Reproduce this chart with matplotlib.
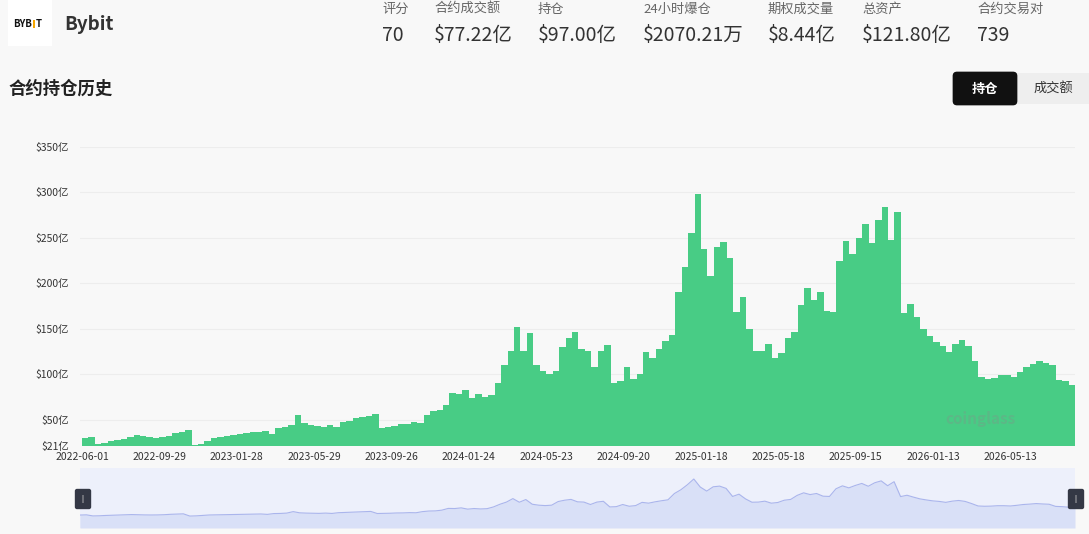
import numpy as np
import matplotlib
matplotlib.use("Agg")
import matplotlib.pyplot as plt
from matplotlib.patches import FancyBboxPatch, Rectangle

plt.rcParams['font.family'] = ['Noto Sans CJK SC', 'DejaVu Sans']

# open interest (亿 USD), one value every 10 days starting 2022-06-01
oi_values = [
    29.5, 31, 23, 24, 26.5, 28, 29, 31, 33, 31.5,
    30.5, 30, 30.5, 32, 35, 36.5, 38.5, 22, 23.5, 27,
    30, 31, 32.5, 33, 34, 35, 36, 36.5, 37.5, 34.5,
    40.5, 41.5, 44, 55, 46, 44, 43, 42, 44, 41.5,
    47, 49, 51.5, 53, 54.5, 56.5, 41, 42, 43, 45,
    45.5, 47.5, 46.5, 55, 59.5, 60.5, 66, 79, 78, 83,
    73.5, 78, 75, 77, 90, 110, 126, 152, 125, 145,
    110, 103, 100, 103, 130, 140, 146, 128, 126, 108,
    126, 132, 90, 92, 108, 95, 100, 124, 118, 128,
    136, 143, 190, 218, 255, 298, 238, 208, 240, 245,
    228, 168, 185, 150, 125, 126, 133, 118, 123, 140,
    146, 176, 195, 182, 190, 170, 168, 225, 247, 232,
    250, 265, 244, 270, 284, 248, 278, 167, 177, 163,
    150, 142, 135, 131, 124, 133, 138, 131, 115, 97,
    95, 96, 99, 99, 97, 102, 108, 111, 115, 112,
    110, 94, 92, 88, 95,
]
step_days = 10

y_ticks = [21, 50, 100, 150, 200, 250, 300, 350]
y_tick_labels = ['$21亿', '$50亿', '$100亿', '$150亿', '$200亿', '$250亿', '$300亿', '$350亿']

x_tick_days = [0, 120, 240, 360, 480, 600, 720, 840, 960, 1080, 1200, 1320, 1440]
x_tick_labels = ['2022-06-01', '2022-09-29', '2023-01-28', '2023-05-29', '2023-09-26',
                 '2024-01-24', '2024-05-23', '2024-09-20', '2025-01-18', '2025-05-18',
                 '2025-09-15', '2026-01-13', '2026-05-13']

stat_names = ['评分', '合约成交额', '持仓', '24小时爆仓', '期权成交量', '总资产', '合约交易对']
stat_values = ['70', '$77.22亿', '$97.00亿', '$2070.21万', '$8.44亿', '$121.80亿', '739']
stat_x = [382, 434, 538, 643, 768, 862, 977]

W, H = 1089, 534
BG = '#f8f8f8'
GREEN = '#48cc85'


def px(x, y):
    return x / W, 1 - y / H


fig = plt.figure(figsize=(W / 100, H / 100), dpi=100, facecolor=BG)

# header
fig.patches.append(Rectangle(px(8, 46), 44 / W, 46 / H, transform=fig.transFigure,
                             facecolor='white', edgecolor='none'))
fig.text(*px(13, 24), 'BYB', fontsize=7, fontweight='bold', color='#111', va='center', ha='left')
fig.patches.append(Rectangle(px(33.2, 28), 1.6 / W, 8 / H, transform=fig.transFigure,
                             facecolor='#f7a600', edgecolor='none'))
fig.text(*px(36, 24), 'T', fontsize=7, fontweight='bold', color='#111', va='center', ha='left')
fig.text(*px(64, 24), 'Bybit', fontsize=13.5, fontweight='bold', color='#333333', va='center', ha='left')

for name, val, x in zip(stat_names, stat_values, stat_x):
    fig.text(*px(x, 9), name, fontsize=9.5, color='#666666', va='center', ha='left')
    fig.text(*px(x, 36), val, fontsize=14, color='#333333', va='center', ha='left')

fig.text(*px(8, 89), '合约持仓历史', fontsize=12.5, fontweight='bold', color='#222222', va='center', ha='left')

# toggle buttons
fig.patches.append(FancyBboxPatch(px(1016, 104), 73 / W, 31 / H, transform=fig.transFigure,
                                  boxstyle='square,pad=0', facecolor='#eeeeee', edgecolor='none'))
fig.patches.append(FancyBboxPatch(px(957, 101), 56 / W, 25 / H, transform=fig.transFigure,
                                  boxstyle='round,pad=0.004', facecolor='#111111', edgecolor='none',
                                  mutation_aspect=W / H))
fig.text(*px(985, 89), '持仓', fontsize=9.5, color='white', fontweight='bold', va='center', ha='center')
fig.text(*px(1053, 89), '成交额', fontsize=9.5, color='#333333', va='center', ha='center')

# main chart
ax = fig.add_axes([80 / W, 1 - 446 / H, 995 / W, (446 - 147) / H])
ax.set_facecolor(BG)
days = np.arange(len(oi_values)) * step_days
ax.bar(days, oi_values, width=step_days, align='edge', color=GREEN, linewidth=0, zorder=2)
ax.set_ylim(21, 350)
ax.set_xlim(-3, 1540)
ax.set_yticks(y_ticks)
ax.set_yticklabels(y_tick_labels)
ax.set_xticks(x_tick_days)
ax.set_xticklabels(x_tick_labels)
for v in y_ticks[1:]:
    ax.axhline(v, color='#ededed', lw=0.8, zorder=1)
for s in ax.spines.values():
    s.set_visible(False)
ax.tick_params(axis='both', length=0, labelsize=7.5, colors='#333333')
ax.tick_params(axis='y', pad=8)
ax.tick_params(axis='x', pad=4)

# watermark
ax.text(0.905, 0.09, 'coinglass', transform=ax.transAxes, fontsize=11, fontweight='bold',
        color='#8a8a8a', alpha=0.3, ha='center', va='center', zorder=3)

# data zoom slider
sl = fig.add_axes([80 / W, 1 - 528 / H, 995 / W, 60 / H])
sl.set_facecolor('#edf0fb')
sl.fill_between(days, oi_values, -67, color='#d9e0f7', linewidth=0)
sl.plot(days, oi_values, color='#aab5ec', lw=0.8)
sl.set_xlim(0, days[-1])
sl.set_ylim(-67, 380)
sl.set_xticks([])
sl.set_yticks([])
for s in sl.spines.values():
    s.set_visible(False)

for hx in (83, 1076):
    fig.patches.append(FancyBboxPatch(px(hx - 6, 507), 12 / W, 16 / H, transform=fig.transFigure,
                                      boxstyle='round,pad=0.002', facecolor='#343845', edgecolor='none',
                                      mutation_aspect=W / H))
    fig.text(*px(hx, 499), '||', fontsize=4.5, color='#cccccc', ha='center', va='center')

fig.savefig('out.png', dpi=100, facecolor=BG)
